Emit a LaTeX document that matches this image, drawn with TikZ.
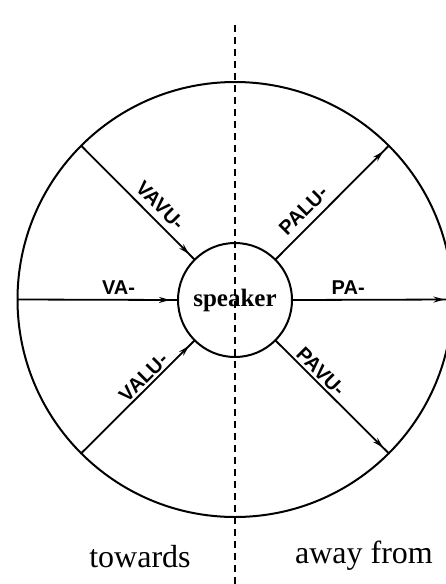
\documentclass[tikz,border=0pt]{standalone}
\usepackage{fontspec}
\setmainfont{Liberation Serif}
\newfontfamily\lblfont{Liberation Sans}
\usetikzlibrary{arrows.meta,decorations.markings}
\begin{document}
\begin{tikzpicture}[x=1pt,y=-1pt,
  ring/.style={draw,circle,line width=2pt,inner sep=0pt,outer sep=0pt},
  spoke/.style={line width=1.8pt,postaction={decorate},
    decoration={markings,mark=at position -8pt with {\arrow{Stealth[length=11pt,width=6pt]}}}},
  lbl/.style={font=\lblfont\bfseries\fontsize{20}{24}\selectfont,inner sep=1pt},
  side/.style={font=\fontsize{32}{38}\selectfont,inner sep=0pt}]
\useasboundingbox (0,0) rectangle (446,584);
\clip (0,0) rectangle (446,584);
\fill[white] (0,0) rectangle (446,584);
\coordinate (dtop) at (235,25);
\coordinate (dbot) at (235,584);
\draw[line width=1.4pt,dash pattern=on 7pt off 5pt] (dtop) -- (dbot);
\node[ring,minimum size=435pt] (outer) at (235,299.5) {};
\node[ring,minimum size=114pt,font=\bfseries\fontsize{25}{30}\selectfont] (speaker) at (235,300) {speaker};
\draw[spoke] (outer.135) -- node[lbl,sloped,above=5pt,pos=0.61]{VAVU-} (speaker.135);
\draw[spoke] (outer.180) -- node[lbl,above=3pt,pos=0.63]{VA-} (speaker.180);
\draw[spoke] (outer.225) -- node[lbl,sloped,above=1pt,pos=0.61]{VALU-} (speaker.225);
\draw[spoke] (speaker.45) -- node[lbl,sloped,above=6pt,pos=0.34]{PALU-} (outer.45);
\draw[spoke] (speaker.0) -- node[lbl,above=3pt,pos=0.35]{PA-} (outer.0);
\draw[spoke] (speaker.-45) -- node[lbl,sloped,above=1pt,pos=0.34]{PAVU-} (outer.-45);
\node[side,anchor=base] (tw) at (140,567) {towards};
\node[side,anchor=base] (af) at (364,563) {away from};
\end{tikzpicture}
\end{document}
